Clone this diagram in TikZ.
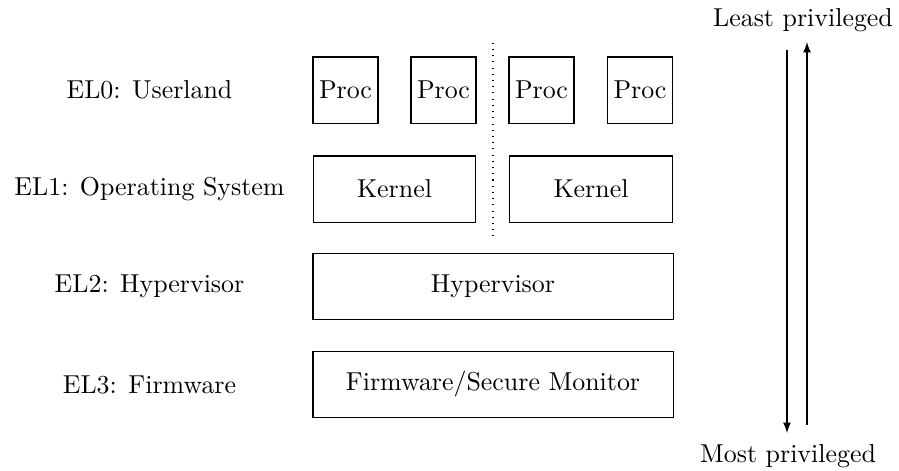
\documentclass[tikz,border=0pt]{standalone}
\usetikzlibrary{arrows}
\begin{document}
\begin{tikzpicture}[x=0.3861pt,y=-0.3861pt,
  box/.style={draw,minimum height=25.5pt,inner sep=0pt},
  procbox/.style={box,minimum width=25.1pt},
  kernbox/.style={box,minimum width=62.9pt},
  widebox/.style={box,minimum width=139pt},
  level/.style={inner sep=0pt},
  privarrow/.style={-latex}]
\useasboundingbox (0,0) rectangle (899,470);

% exception level labels
\node[level] (l0) at (149.5,90)    {EL0: Userland};
\node[level] (l1) at (149.5,189)   {EL1: Operating System};
\node[level] (l2) at (149.5,286.5) {EL2: Hypervisor};
\node[level] (l3) at (149.5,384.5) {EL3: Firmware};

% user processes
\node[procbox] (p1) at (345.5,90) {Proc};
\node[procbox] (p2) at (443.5,90) {Proc};
\node[procbox] (p3) at (541.5,90) {Proc};
\node[procbox] (p4) at (640,90)   {Proc};

% guest kernels
\node[kernbox] (k1) at (394.5,189) {Kernel};
\node[kernbox] (k2) at (591,189)   {Kernel};

% hypervisor and firmware
\node[widebox] (hyp) at (493,286.5) {Hypervisor};
\node[widebox] (fw)  at (493,384.5) {Firmware/Secure Monitor};

% separation between the two guests
\coordinate (septop) at (493,42.7);
\coordinate (sepbot) at (493,236.7);
\draw[dotted] (septop) -- (sepbot);

% privilege direction
\node[level] (least) at (803,20.5) {Least privileged};
\node[level] (most)  at (788,456)  {Most privileged};
\coordinate (downstart) at (787,50);
\coordinate (downend)   at (787,433);
\coordinate (upstart)   at (807,425);
\coordinate (upend)     at (807,42);
\draw[privarrow] (downstart) -- (downend);
\draw[privarrow] (upstart) -- (upend);
\end{tikzpicture}
\end{document}
